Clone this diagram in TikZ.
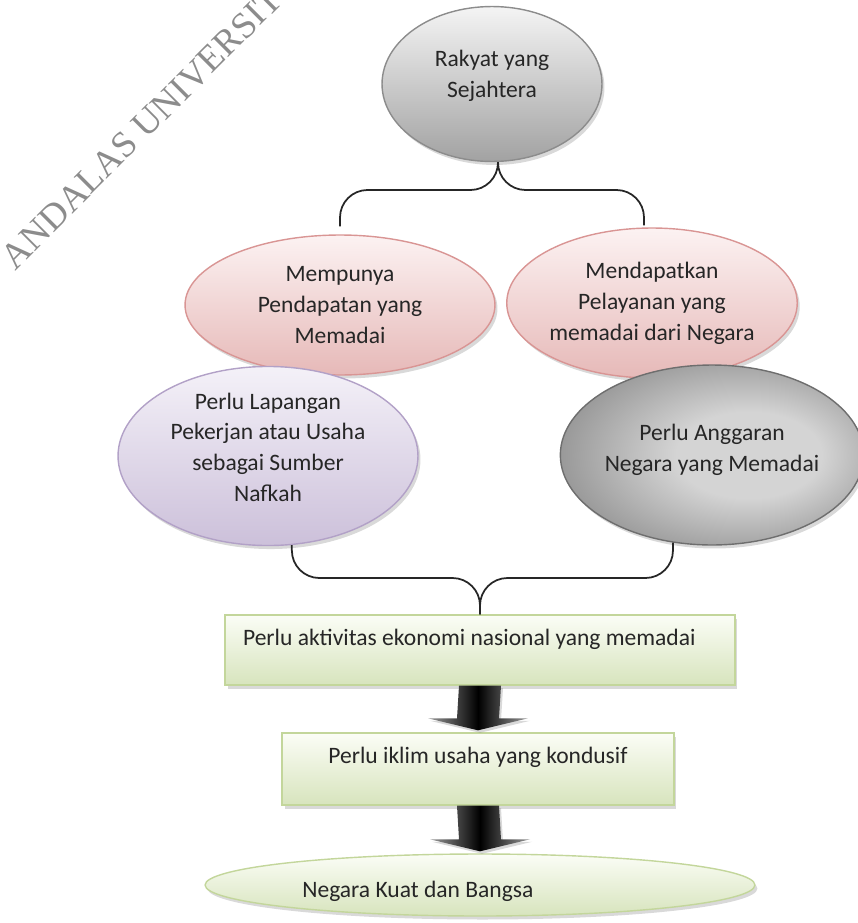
\documentclass[tikz,border=0pt]{standalone}
\usepackage{fontspec}
\setmainfont{Carlito}
\newfontfamily\wmfont{Liberation Serif}
\usepackage{tikz}
\usetikzlibrary{shapes}
\usetikzlibrary{shadows}
\usetikzlibrary{calc}
\definecolor{greyline}{HTML}{8C8C8C}
\definecolor{greytop}{HTML}{F4F4F4}
\definecolor{greybot}{HTML}{A2A2A2}
\definecolor{darkline}{HTML}{6E6E6E}
\definecolor{darkin}{HTML}{D4D4D4}
\definecolor{darkout}{HTML}{7E7E7E}
\definecolor{pinkline}{HTML}{D99594}
\definecolor{pinktop}{HTML}{FCF2F2}
\definecolor{pinkbot}{HTML}{E6B9B8}
\definecolor{lilacline}{HTML}{B2A1C7}
\definecolor{lilactop}{HTML}{F4F1F8}
\definecolor{lilacbot}{HTML}{CCC0DA}
\definecolor{greenline}{HTML}{C3D69B}
\definecolor{greentop}{HTML}{FBFDF6}
\definecolor{greenbot}{HTML}{D7E4BD}
\pgfdeclareradialshading{darkglow}{\pgfpoint{8bp}{0bp}}{color(0bp)=(darkin); color(12bp)=(darkin); color(36bp)=(darkout); color(50bp)=(darkout)}
\tikzset{
	bubble/.style = {
		ellipse,
		align=center,
		inner sep=0pt,
		text=black!85,
		font=\fontsize{13.4}{17.6}\selectfont,
		line width=0.8pt,
		drop shadow={shadow xshift=0.05cm, shadow yshift=-0.07cm, opacity=0.3}
	},
	node_grey/.style = {
		bubble,
		draw=greyline,
		top color=greytop,
		bottom color=greybot,
		minimum width=4.4cm,
		minimum height=3.1cm
	},
	node_pink/.style = {
		bubble,
		draw=pinkline,
		top color=pinktop,
		bottom color=pinkbot
	},
	node_lilac/.style = {
		bubble,
		draw=lilacline,
		top color=lilactop,
		bottom color=lilacbot
	},
	node_dark/.style = {
		bubble,
		draw=darkline,
		shading=darkglow
	},
	node_box/.style = {
		rectangle,
		draw=greenline,
		line width=0.8pt,
		top color=greentop,
		bottom color=greenbot,
		text=black!85,
		font=\fontsize{13.4}{17.6}\selectfont,
		inner ysep=0pt,
		text height=0.6cm,
		drop shadow={shadow xshift=0.05cm, shadow yshift=-0.07cm, opacity=0.3}
	},
	node_oval/.style = {
		node_box,
		ellipse,
		text height=,
		minimum width=11cm,
		minimum height=1.24cm
	},
	brace/.style = {
		draw=black!85,
		line width=1pt,
		rounded corners=0.55cm
	},
	fat_arrow/.style = {
		left color=black!40,
		right color=black!40,
		middle color=black,
		drop shadow={shadow xshift=0.04cm, shadow yshift=-0.05cm, opacity=0.3}
	},
	watermark/.style = {
		font=\wmfont\fontsize{21}{21}\selectfont,
		text=black!45,
		inner sep=0pt
	}
}

\begin{document}
\begin{tikzpicture}[x=0.02cm, y=-0.02cm]
\useasboundingbox (0,0) rectangle (858,923);

\node [watermark, rotate=45, anchor=south west] (andalas) at (16,272) {ANDALAS UNIVERSITY};

\node [node_grey, text depth=0.42cm] (rakyat) at (492,84) {Rakyat yang\\Sejahtera};

\node [node_pink, minimum width=6.2cm, minimum height=2.8cm] (pendapatan) at (340,305)
	{Mempunya\\Pendapatan yang\\Memadai};
\node [node_pink, minimum width=5.72cm, minimum height=3cm] (pelayanan) at (652,303)
	{Mendapatkan\\Pelayanan yang\\memadai dari Negara};

\node [node_lilac, minimum width=6cm, minimum height=3.54cm, text depth=0.35cm] (lapangan) at (268,456)
	{Perlu Lapangan\\Pekerjan atau Usaha\\sebagai Sumber\\Nafkah};
\node [node_dark, minimum width=5.88cm, minimum height=3.6cm, text depth=0.3cm] (anggaran) at (712,455)
	{Perlu Anggaran\\Negara yang Memadai};

\node [node_box, minimum width=10.2cm, text width=9.48cm, inner xsep=0.36cm, align=flush left, text depth=0.8cm] (aktivitas) at (480,650)
	{Perlu aktivitas ekonomi nasional yang memadai};
\node [node_box, minimum width=7.84cm, text depth=0.84cm] (iklim) at (478,769)
	{Perlu iklim usaha yang kondusif};

\node [node_oval] (negara) at (480,885) {};
\node [text=black!85, font=\fontsize{13.4}{17.6}\selectfont, anchor=west, inner sep=0pt] (negaratext) at (302,891) {Negara Kuat dan Bangsa};

% braces
\coordinate (topjoin) at (498,190);
\draw [brace] ([xshift=0.12cm]rakyat.south) -- (topjoin) -| ([yshift=0.16cm]pendapatan.north);
\draw [brace] ([xshift=0.12cm]rakyat.south) -- (topjoin) -| ([xshift=-0.16cm, yshift=0.04cm]pelayanan.north);

\coordinate (lowjoin) at (480,578);
\draw [brace] (lapangan.-75) |- (lowjoin) -- (aktivitas.north);
\draw [brace] (anggaran.-114) |- (lowjoin) -- (aktivitas.north);

% block arrows
\foreach \a/\b in {aktivitas/iklim, iklim/negara} {
	\shade [fat_arrow] ($(\a.south)+(-21,0)$) -- ($(\a.south)+(21,0)$) -- ($(\b.north)+(21,-14)$)
		-- ($(\b.north)+(50,-14)$) -- ($(\b.north)+(0,-2)$) -- ($(\b.north)+(-50,-14)$)
		-- ($(\b.north)+(-21,-14)$) -- cycle;
}
\end{tikzpicture}
\end{document}
